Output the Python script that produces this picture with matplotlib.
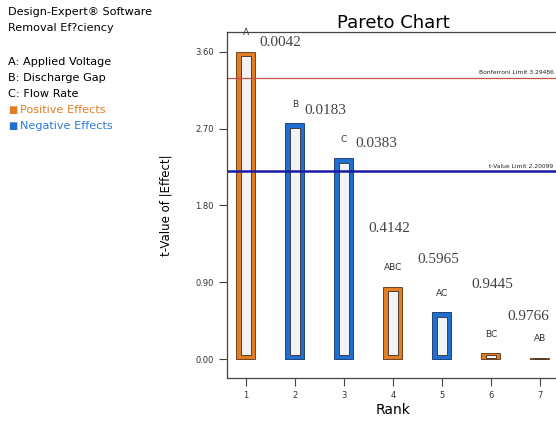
import numpy as np
import matplotlib.pyplot as plt
from matplotlib.patches import Rectangle

# Pareto chart data
ranks = [1, 2, 3, 4, 5, 6, 7]
terms = ['A', 'B', 'C', 'ABC', 'AC', 'BC', 'AB']
t_values = [3.60, 2.76, 2.35, 0.85, 0.55, 0.07, 0.02]
positive = [True, False, False, True, False, True, True]
p_values = ['0.0042', '0.0183', '0.0383', '0.4142', '0.5965', '0.9445', '0.9766']
bonferroni = 3.29486
t_limit = 2.20099
yticks = [0.00, 0.90, 1.80, 2.70, 3.60]

# where the p-value notes sit (data coords)
p_pos = [(1.27, 3.71), (2.20, 2.91), (3.24, 2.53), (3.49, 1.53),
         (4.51, 1.17), (5.61, 0.87), (6.33, 0.50)]

orange = '#e27d22'
blue = '#1f6fd1'

fig = plt.figure(figsize=(5.56, 4.21), dpi=100)
ax = fig.add_axes([0.408, 0.102, 0.599, 0.822])

w = 0.39
for r, v, pos in zip(ranks, t_values, positive):
    col = orange if pos else blue
    ax.add_patch(Rectangle((r - w / 2, 0), w, v, facecolor=col,
                           edgecolor='#5a3010' if pos else '#0e2f66', lw=0.6))
    # hollow inside
    iw = w * 0.55
    pad = min(0.05, v * 0.25)
    ax.add_patch(Rectangle((r - iw / 2, pad), iw, max(v - 2 * pad, 0.005),
                           facecolor='#f3f3f7', edgecolor='#3a2a20', lw=0.6))

for r, v, name in zip(ranks, t_values, terms):
    ax.text(r, v + 0.17, name, ha='center', va='bottom', fontsize=6.5, color='#333333')

for (x, y), p in zip(p_pos, p_values):
    ax.text(x, y, p, ha='left', va='center', fontsize=11,
            family='Liberation Serif', color='#444444')

ax.axhline(bonferroni, color='#c0504d', lw=0.9)
ax.axhline(t_limit, color='#1a1aa5', lw=1.8)
ax.text(7.28, bonferroni + 0.03, 'Bonferroni Limit 3.29486', ha='right', va='bottom',
        fontsize=4.3, color='#222222')
ax.text(7.28, t_limit + 0.03, 't-Value Limit 2.20099', ha='right', va='bottom',
        fontsize=4.3, color='#222222')

ax.set_xlim(0.61, 7.41)
ax.set_ylim(-0.22, 3.83)
ax.set_xticks(ranks)
ax.set_yticks(yticks)
ax.set_yticklabels(['%.2f' % t for t in yticks])
ax.tick_params(labelsize=6, length=6, width=0.8, color='#444444', labelcolor='#333333')
for s in ax.spines.values():
    s.set_color('#444444')
    s.set_linewidth(0.9)

ax.set_title('Pareto Chart', fontsize=13, pad=3)
ax.set_xlabel('Rank', fontsize=10, labelpad=2)
ax.set_ylabel('t-Value of |Effect|', fontsize=8.5, labelpad=16)

# left-hand info block
fs = 8.1
fig.text(0.014, 0.972, 'Design-Expert\u00ae Software', fontsize=fs, va='center')
fig.text(0.014, 0.934, 'Removal Ef?ciency', fontsize=fs, va='center')
fig.text(0.014, 0.853, 'A: Applied Voltage', fontsize=fs, va='center')
fig.text(0.014, 0.815, 'B: Discharge Gap', fontsize=fs, va='center')
fig.text(0.014, 0.777, 'C: Flow Rate', fontsize=fs, va='center')
fig.text(0.014, 0.739, '\u25a0', fontsize=7, va='center', color=orange)
fig.text(0.036, 0.739, 'Positive Effects', fontsize=fs, va='center', color=orange)
fig.text(0.014, 0.701, '\u25a0', fontsize=7, va='center', color=blue)
fig.text(0.036, 0.701, 'Negative Effects', fontsize=fs, va='center', color='#2b7bd6')

fig.savefig('out.png', dpi=100)
